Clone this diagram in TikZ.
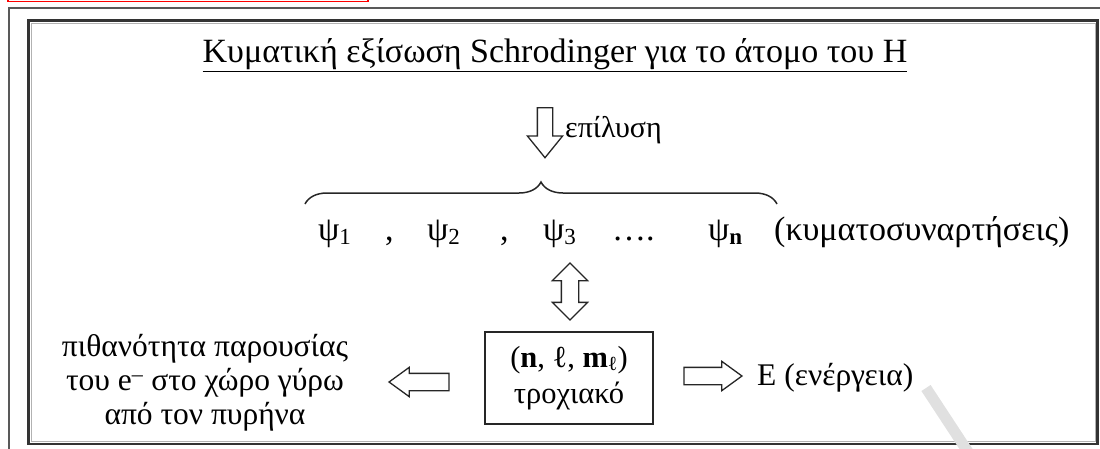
\documentclass[tikz,border=0pt]{standalone}
\usepackage{fontspec}
\setmainfont{Liberation Serif}
\usetikzlibrary{shapes.arrows,decorations.pathreplacing}
\begin{document}
\begin{tikzpicture}[x=1pt,y=-1pt,
  txt/.style={font=\fontsize{31.5}{34}\selectfont, inner sep=0pt, text=black},
  big/.style={txt, font=\fontsize{34}{38}\selectfont},
  blockarrow/.style={draw=black!85, line width=1.3pt, fill=white, inner xsep=0pt,
    single arrow head indent=0pt, double arrow head indent=0pt},
  downarrow/.style={blockarrow, single arrow, inner ysep=7pt, single arrow head extend=10pt,
    single arrow tip angle=78},
  siderrow/.style={blockarrow, single arrow, inner ysep=8pt, single arrow head extend=6pt,
    single arrow tip angle=72},
  twoarrow/.style={blockarrow, double arrow, inner ysep=8pt, double arrow head extend=9pt,
    double arrow tip angle=90},
  orbbox/.style={draw=black!85, line width=2pt, minimum width=168pt, minimum height=92pt,
    align=center, font=\fontsize{30.5}{36}\selectfont, inner sep=0pt},
  bracestyle/.style={draw=black!85, line width=1.5pt, decorate,
    decoration={brace, amplitude=22pt}}
]
\useasboundingbox (0,0) rectangle (1100,448);
\clip (0,0) rectangle (1100,448);
% frames
\draw[red, line width=1.6pt] (8,-10) rectangle (368,1.5);
\draw[black!65, line width=1.2pt] (9,8) rectangle (1120,470);
\draw[black!30, line width=1pt] (31,23) rectangle (1095,441.5);
\draw[black!80, line width=2.6pt] (28.5,20.5) rectangle (1097.5,444);
% watermark stroke
\draw[black!12, line width=11pt] (926,388) -- (968,452);
% title
\node[big, anchor=base] (title) at (555,62)
  {\underline{Κυματική εξίσωση Schrodinger για το άτομο του Η}};
% solve arrow
\node[downarrow, minimum height=50pt, rotate=-90] (solve) at (545,128) {};
\node[txt, anchor=base west, font=\fontsize{30}{34}\selectfont] (solvelbl) at (565,137) {επίλυση};
% brace
\coordinate (bl) at (305,204);
\coordinate (br) at (777,204);
\draw[bracestyle] (bl) -- (br);
% psi row
\node[big, anchor=base west] (psi1) at (318,240) {ψ\raisebox{-4pt}{\fontsize{23}{23}\selectfont 1}};
\node[big, anchor=base west] (c1) at (385,240) {,};
\node[big, anchor=base west] (psi2) at (427,240) {ψ\raisebox{-4pt}{\fontsize{23}{23}\selectfont 2}};
\node[big, anchor=base west] (c2) at (500,240) {,};
\node[big, anchor=base west] (psi3) at (543,240) {ψ\raisebox{-4pt}{\fontsize{23}{23}\selectfont 3}};
\node[big, anchor=base west] (dots) at (612,240) {….};
\node[big, anchor=base west] (psin) at (708,240) {ψ\raisebox{-4pt}{\fontsize{23}{23}\selectfont\bfseries n}};
\node[big, anchor=base west] (wf) at (774,240) {(κυματοσυναρτήσεις)};
% double arrow
\node[twoarrow, minimum height=57pt, rotate=90] (dbl) at (570,291.5) {};
% orbital box
\node[orbbox] (orb) at (569,378) {(\textbf{n}, ℓ, \textbf{m}\raisebox{-3pt}{\fontsize{20}{20}\selectfont ℓ})\\τροχιακό};
% left text and arrow
\node[txt, align=center, anchor=center] (prob) at (205,383)
  {πιθανότητα παρουσίας\\του e\textsuperscript{–} στο χώρο γύρω\\από τον πυρήνα};
\node[siderrow, minimum height=60pt, rotate=180] (lar) at (425,382) {};
% right arrow and energy
\node[siderrow, minimum height=58pt] (rar) at (707,376) {};
\node[txt, anchor=base west, font=\fontsize{31.5}{36}\selectfont] (energy) at (757,385) {Ε (ενέργεια)};
\end{tikzpicture}
\end{document}
